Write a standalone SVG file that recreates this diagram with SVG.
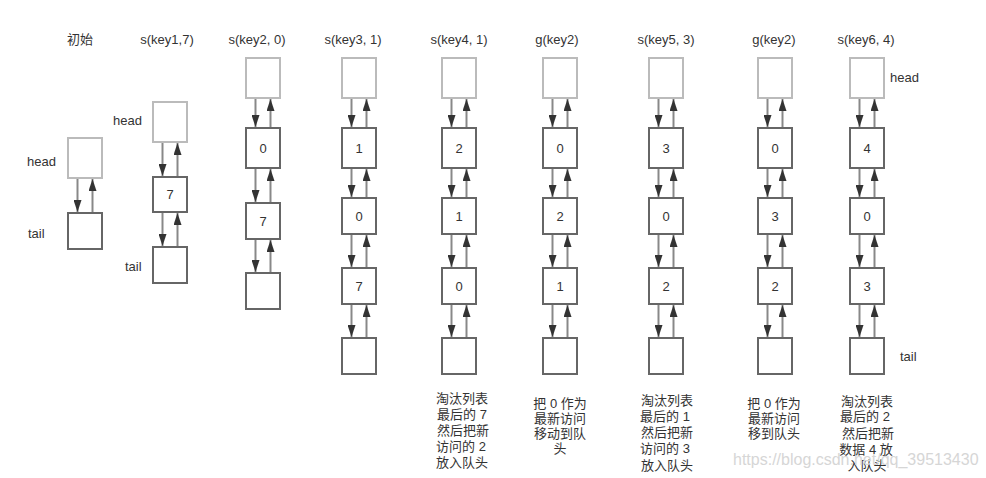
<svg xmlns="http://www.w3.org/2000/svg" width="986" height="478" viewBox="0 0 986 478">
<defs>
<marker id="ah" markerUnits="userSpaceOnUse" markerWidth="12" markerHeight="8" refX="12" refY="4" orient="auto">
<path d="M0,0 L12,4 L0,8 Z" fill="#333"/>
</marker>
<style>
.t{font-family:"Liberation Sans",Arial,"Noto Sans CJK SC",sans-serif;font-size:13px;fill:#333}
.c{text-anchor:middle}
.cj{font-family:"Liberation Sans","Noto Sans CJK SC",sans-serif;font-size:13px;fill:#333;text-anchor:middle}
.hd{fill:#fff;stroke:#bbb;stroke-width:2}
.nd{fill:#fff;stroke:#666;stroke-width:2}
.ln{stroke:#888;stroke-width:2;fill:none;marker-end:url(#ah)}
.wm{font-family:"Liberation Sans",Arial,sans-serif;font-size:16px;fill:#d6d6d6}
</style>
</defs>
<rect width="986" height="478" fill="#fff"/>

<g id="titles">
<text class="t c" x="80" y="44">初始</text>
<text class="t c" x="167" y="44">s(key1,7)</text>
<text class="t c" x="257" y="44">s(key2, 0)</text>
<text class="t c" x="353" y="44">s(key3, 1)</text>
<text class="t c" x="459" y="44">s(key4, 1)</text>
<text class="t c" x="557" y="44">g(key2)</text>
<text class="t c" x="666" y="44">s(key5, 3)</text>
<text class="t c" x="774" y="44">g(key2)</text>
<text class="t c" x="866" y="44">s(key6, 4)</text>
</g>

<g id="side-labels">
<text class="t" x="27" y="166">head</text>
<text class="t" x="28" y="238">tail</text>
<text class="t" x="113" y="125">head</text>
<text class="t" x="125" y="271">tail</text>
<text class="t" x="890" y="82">head</text>
<text class="t" x="900" y="361">tail</text>
</g>

<g id="col1">
<rect class="hd" x="68" y="138" width="34" height="40"/>
<rect class="nd" x="68" y="213" width="34" height="36"/>
</g>
<g id="col2">
<rect class="hd" x="153" y="102" width="34" height="40"/>
<rect class="nd" x="153" y="177" width="34" height="35"/>
<text class="t c" x="170" y="199">7</text>
<rect class="nd" x="153" y="247" width="34" height="36"/>
</g>
<g id="col3">
<rect class="hd" x="246" y="58" width="34" height="40"/>
<rect class="nd" x="246" y="128" width="34" height="40"/>
<text class="t c" x="263" y="153">0</text>
<rect class="nd" x="246" y="203" width="34" height="36"/>
<text class="t c" x="263" y="226">7</text>
<rect class="nd" x="246" y="273" width="34" height="36"/>
</g>
<g id="col4">
<rect class="hd" x="342" y="58" width="34" height="40"/>
<rect class="nd" x="342" y="128" width="34" height="40"/>
<text class="t c" x="359" y="153">1</text>
<rect class="nd" x="342" y="198" width="34" height="36"/>
<text class="t c" x="359" y="221">0</text>
<rect class="nd" x="342" y="268" width="34" height="36"/>
<text class="t c" x="359" y="291">7</text>
<rect class="nd" x="342" y="338" width="34" height="36"/>
</g>
<g id="col5">
<rect class="hd" x="442" y="58" width="34" height="40"/>
<rect class="nd" x="442" y="128" width="34" height="40"/>
<text class="t c" x="459" y="153">2</text>
<rect class="nd" x="442" y="198" width="34" height="36"/>
<text class="t c" x="459" y="221">1</text>
<rect class="nd" x="442" y="268" width="34" height="36"/>
<text class="t c" x="459" y="291">0</text>
<rect class="nd" x="442" y="338" width="34" height="36"/>
</g>
<g id="col6">
<rect class="hd" x="543" y="58" width="34" height="40"/>
<rect class="nd" x="543" y="128" width="34" height="40"/>
<text class="t c" x="560" y="153">0</text>
<rect class="nd" x="543" y="198" width="34" height="36"/>
<text class="t c" x="560" y="221">2</text>
<rect class="nd" x="543" y="268" width="34" height="36"/>
<text class="t c" x="560" y="291">1</text>
<rect class="nd" x="543" y="338" width="34" height="36"/>
</g>
<g id="col7">
<rect class="hd" x="649" y="58" width="34" height="40"/>
<rect class="nd" x="649" y="128" width="34" height="40"/>
<text class="t c" x="666" y="153">3</text>
<rect class="nd" x="649" y="198" width="34" height="36"/>
<text class="t c" x="666" y="221">0</text>
<rect class="nd" x="649" y="268" width="34" height="36"/>
<text class="t c" x="666" y="291">2</text>
<rect class="nd" x="649" y="338" width="34" height="36"/>
</g>
<g id="col8">
<rect class="hd" x="758" y="58" width="34" height="40"/>
<rect class="nd" x="758" y="128" width="34" height="40"/>
<text class="t c" x="775" y="153">0</text>
<rect class="nd" x="758" y="198" width="34" height="36"/>
<text class="t c" x="775" y="221">3</text>
<rect class="nd" x="758" y="268" width="34" height="36"/>
<text class="t c" x="775" y="291">2</text>
<rect class="nd" x="758" y="338" width="34" height="36"/>
</g>
<g id="col9">
<rect class="hd" x="850" y="58" width="34" height="40"/>
<rect class="nd" x="850" y="128" width="34" height="40"/>
<text class="t c" x="867" y="153">4</text>
<rect class="nd" x="850" y="198" width="34" height="36"/>
<text class="t c" x="867" y="221">0</text>
<rect class="nd" x="850" y="268" width="34" height="36"/>
<text class="t c" x="867" y="291">3</text>
<rect class="nd" x="850" y="338" width="34" height="36"/>
</g>

<g id="connectors">
<!-- col1 -->
<line class="ln" x1="77.5" y1="179" x2="77.5" y2="212"/>
<line class="ln" x1="92.5" y1="212" x2="92.5" y2="179"/>
<!-- col2 -->
<line class="ln" x1="162.5" y1="143" x2="162.5" y2="176"/>
<line class="ln" x1="177.5" y1="176" x2="177.5" y2="143"/>
<line class="ln" x1="162.5" y1="213" x2="162.5" y2="246"/>
<line class="ln" x1="177.5" y1="246" x2="177.5" y2="213"/>
<!-- col3 -->
<line class="ln" x1="255.5" y1="99" x2="255.5" y2="127"/>
<line class="ln" x1="270.5" y1="127" x2="270.5" y2="99"/>
<line class="ln" x1="255.5" y1="169" x2="255.5" y2="202"/>
<line class="ln" x1="270.5" y1="202" x2="270.5" y2="169"/>
<line class="ln" x1="255.5" y1="240" x2="255.5" y2="272"/>
<line class="ln" x1="270.5" y1="272" x2="270.5" y2="240"/>
<!-- col4 -->
<line class="ln" x1="351.5" y1="99" x2="351.5" y2="127"/>
<line class="ln" x1="366.5" y1="127" x2="366.5" y2="99"/>
<line class="ln" x1="351.5" y1="169" x2="351.5" y2="197"/>
<line class="ln" x1="366.5" y1="197" x2="366.5" y2="169"/>
<line class="ln" x1="351.5" y1="235" x2="351.5" y2="267"/>
<line class="ln" x1="366.5" y1="267" x2="366.5" y2="235"/>
<line class="ln" x1="351.5" y1="305" x2="351.5" y2="337"/>
<line class="ln" x1="366.5" y1="337" x2="366.5" y2="305"/>
<!-- col5 -->
<line class="ln" x1="451.5" y1="99" x2="451.5" y2="127"/>
<line class="ln" x1="466.5" y1="127" x2="466.5" y2="99"/>
<line class="ln" x1="451.5" y1="169" x2="451.5" y2="197"/>
<line class="ln" x1="466.5" y1="197" x2="466.5" y2="169"/>
<line class="ln" x1="451.5" y1="235" x2="451.5" y2="267"/>
<line class="ln" x1="466.5" y1="267" x2="466.5" y2="235"/>
<line class="ln" x1="451.5" y1="305" x2="451.5" y2="337"/>
<line class="ln" x1="466.5" y1="337" x2="466.5" y2="305"/>
<!-- col6 -->
<line class="ln" x1="552.5" y1="99" x2="552.5" y2="127"/>
<line class="ln" x1="567.5" y1="127" x2="567.5" y2="99"/>
<line class="ln" x1="552.5" y1="169" x2="552.5" y2="197"/>
<line class="ln" x1="567.5" y1="197" x2="567.5" y2="169"/>
<line class="ln" x1="552.5" y1="235" x2="552.5" y2="267"/>
<line class="ln" x1="567.5" y1="267" x2="567.5" y2="235"/>
<line class="ln" x1="552.5" y1="305" x2="552.5" y2="337"/>
<line class="ln" x1="567.5" y1="337" x2="567.5" y2="305"/>
<!-- col7 -->
<line class="ln" x1="658.5" y1="99" x2="658.5" y2="127"/>
<line class="ln" x1="673.5" y1="127" x2="673.5" y2="99"/>
<line class="ln" x1="658.5" y1="169" x2="658.5" y2="197"/>
<line class="ln" x1="673.5" y1="197" x2="673.5" y2="169"/>
<line class="ln" x1="658.5" y1="235" x2="658.5" y2="267"/>
<line class="ln" x1="673.5" y1="267" x2="673.5" y2="235"/>
<line class="ln" x1="658.5" y1="305" x2="658.5" y2="337"/>
<line class="ln" x1="673.5" y1="337" x2="673.5" y2="305"/>
<!-- col8 -->
<line class="ln" x1="767.5" y1="99" x2="767.5" y2="127"/>
<line class="ln" x1="782.5" y1="127" x2="782.5" y2="99"/>
<line class="ln" x1="767.5" y1="169" x2="767.5" y2="197"/>
<line class="ln" x1="782.5" y1="197" x2="782.5" y2="169"/>
<line class="ln" x1="767.5" y1="235" x2="767.5" y2="267"/>
<line class="ln" x1="782.5" y1="267" x2="782.5" y2="235"/>
<line class="ln" x1="767.5" y1="305" x2="767.5" y2="337"/>
<line class="ln" x1="782.5" y1="337" x2="782.5" y2="305"/>
<!-- col9 -->
<line class="ln" x1="859.5" y1="99" x2="859.5" y2="127"/>
<line class="ln" x1="874.5" y1="127" x2="874.5" y2="99"/>
<line class="ln" x1="859.5" y1="169" x2="859.5" y2="197"/>
<line class="ln" x1="874.5" y1="197" x2="874.5" y2="169"/>
<line class="ln" x1="859.5" y1="235" x2="859.5" y2="267"/>
<line class="ln" x1="874.5" y1="267" x2="874.5" y2="235"/>
<line class="ln" x1="859.5" y1="305" x2="859.5" y2="337"/>
<line class="ln" x1="874.5" y1="337" x2="874.5" y2="305"/>
</g>

<g id="notes">
<text class="cj" x="462" y="403">淘汰列表</text>
<text class="cj" x="462" y="419">最后的 7</text>
<text class="cj" x="463" y="435">然后把新</text>
<text class="cj" x="461" y="451">访问的 2</text>
<text class="cj" x="462" y="467">放入队头</text>

<text class="cj" x="560" y="408">把 0 作为</text>
<text class="cj" x="560" y="423">最新访问</text>
<text class="cj" x="560" y="438">移动到队</text>
<text class="cj" x="560" y="453">头</text>

<text class="cj" x="667" y="405">淘汰列表</text>
<text class="cj" x="665" y="421">最后的 1</text>
<text class="cj" x="667" y="437">然后把新</text>
<text class="cj" x="665" y="453">访问的 3</text>
<text class="cj" x="667" y="470">放入队头</text>

<text class="cj" x="774" y="408">把 0 作为</text>
<text class="cj" x="774" y="423">最新访问</text>
<text class="cj" x="774" y="438">移到队头</text>

<text class="cj" x="867" y="406">淘汰列表</text>
<text class="cj" x="865" y="421">最后的 2</text>
<text class="cj" x="868" y="438">然后把新</text>
<text class="cj" x="866" y="454">数据 4 放</text>
<text class="cj" x="867" y="470">入队头</text>
</g>

<text class="wm" x="733" y="465">https://blog.csdn.net/qq_39513430</text>
</svg>
